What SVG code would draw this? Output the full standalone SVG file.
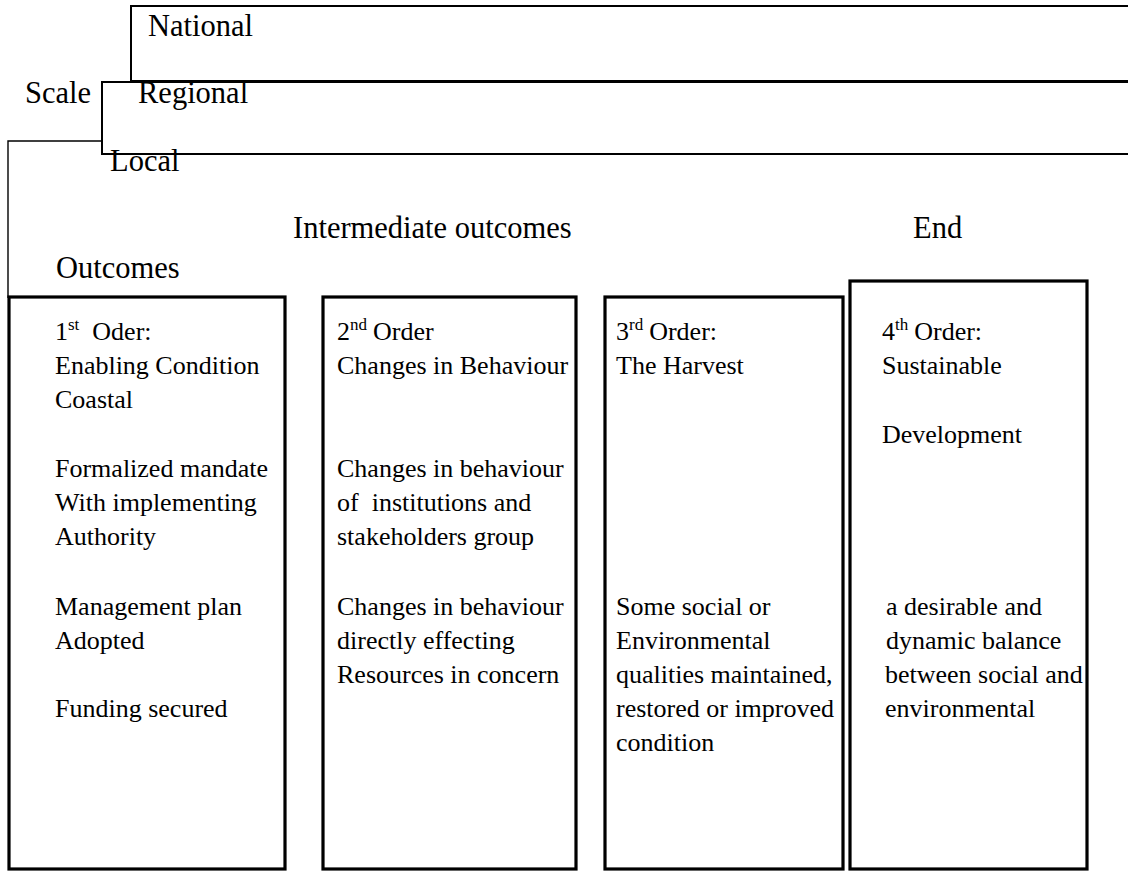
<svg xmlns="http://www.w3.org/2000/svg" width="1128" height="872" viewBox="0 0 1128 872">
  <style>
    text { font-family: 'Liberation Serif', 'DejaVu Serif', serif; fill: #000; }
    .head { font-size: 30.5px; }
    .body { font-size: 26px; }
    .sup { font-size: 17px; }
    .frame { fill: #fff; stroke: #000; stroke-width: 2; }
    .thin { fill: none; stroke: #000; stroke-width: 1.4; }
    .box { fill: #fff; stroke: #000; stroke-width: 3.2; }
  </style>
  <rect width="1128" height="872" fill="#fff"/>

  <g font-family="Liberation Serif, DejaVu Serif, serif">
  <!-- Scale frames: local (back), national, regional (front) -->
  <g id="scale-local">
    <polyline class="thin" points="104,141 8,141 8,298"/>
  </g>
  <g id="scale-national">
    <rect class="frame" x="131" y="6" width="1010" height="75"/>
    <text class="head" x="148" y="36">National</text>
  </g>
  <g id="scale-regional">
    <rect class="frame" x="102" y="82" width="1040" height="72"/>
    <text class="head" x="138" y="103">Regional</text>
  </g>

  <g id="labels">
    <text class="head" x="25" y="103">Scale</text>
    <text class="head" x="110" y="171">Local</text>
    <text class="head" x="293" y="238">Intermediate outcomes</text>
    <text class="head" x="913" y="238">End</text>
    <text class="head" x="56" y="278">Outcomes</text>
  </g>

  <!-- 1st order -->
  <g id="box-1">
    <rect class="box" x="9" y="297" width="276" height="572"/>
    <text class="body" x="55" y="340">1<tspan class="sup" dy="-10">st</tspan><tspan dx="13" dy="10">Oder:</tspan></text>
    <text class="body" x="55" y="374">Enabling Condition</text>
    <text class="body" x="55" y="408">Coastal</text>
    <text class="body" x="55" y="477">Formalized mandate</text>
    <text class="body" x="55" y="511">With implementing</text>
    <text class="body" x="55" y="545">Authority</text>
    <text class="body" x="55" y="615">Management plan</text>
    <text class="body" x="55" y="649">Adopted</text>
    <text class="body" x="55" y="717">Funding secured</text>
  </g>

  <!-- 2nd order -->
  <g id="box-2">
    <rect class="box" x="323" y="297" width="253" height="572"/>
    <text class="body" x="337" y="340">2<tspan class="sup" dy="-10">nd</tspan><tspan dx="6" dy="10">Order</tspan></text>
    <text class="body" x="337" y="374">Changes in Behaviour</text>
    <text class="body" x="337" y="477">Changes in behaviour</text>
    <text class="body" x="337" y="511" xml:space="preserve">of  institutions and</text>
    <text class="body" x="337" y="545">stakeholders group</text>
    <text class="body" x="337" y="615">Changes in behaviour</text>
    <text class="body" x="337" y="649">directly effecting</text>
    <text class="body" x="337" y="683">Resources in concern</text>
  </g>

  <!-- 3rd order -->
  <g id="box-3">
    <rect class="box" x="605" y="297" width="238" height="572"/>
    <text class="body" x="616" y="340">3<tspan class="sup" dy="-10">rd</tspan><tspan dx="6" dy="10">Order:</tspan></text>
    <text class="body" x="616" y="374">The Harvest</text>
    <text class="body" x="616" y="615">Some social or</text>
    <text class="body" x="616" y="649">Environmental</text>
    <text class="body" x="616" y="683">qualities maintained,</text>
    <text class="body" x="616" y="717">restored or improved</text>
    <text class="body" x="616" y="751">condition</text>
  </g>

  <!-- 4th order -->
  <g id="box-4">
    <rect class="box" x="850" y="281" width="237" height="588"/>
    <text class="body" x="882" y="340">4<tspan class="sup" dy="-10">th</tspan><tspan dx="6" dy="10">Order:</tspan></text>
    <text class="body" x="882" y="374">Sustainable</text>
    <text class="body" x="882" y="443">Development</text>
    <text class="body" x="886" y="615">a desirable and</text>
    <text class="body" x="886" y="649">dynamic balance</text>
    <text class="body" x="885" y="683">between social and</text>
    <text class="body" x="885" y="717">environmental</text>
  </g>
  </g>
</svg>
